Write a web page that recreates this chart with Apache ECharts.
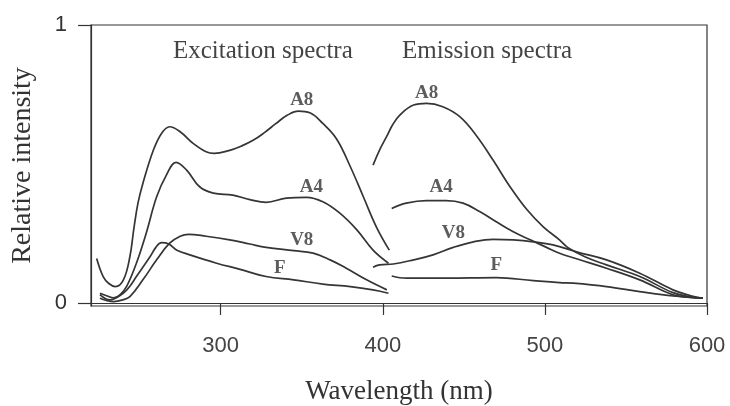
<!DOCTYPE html>
<html>
<head>
<meta charset="utf-8">
<script src="https://cdn.jsdelivr.net/npm/echarts@6/dist/echarts.min.js"></script>
<style>
  html, body { margin: 0; padding: 0; background: #fff; }
  #chart { width: 730px; height: 406px; }
</style>
</head>
<body>
<div id="chart"></div>
<script>
// wavelength (nm), relative intensity
const exA8 = [[223.5,0.16],[227.5,0.095],[231,0.07],[235,0.059],[240,0.083],[244,0.167],[246.5,0.27],[249,0.36],[252,0.43],[258.5,0.55],[263.5,0.61],[268.5,0.634],[275,0.616],[283,0.574],[291,0.544],[296,0.538],[305,0.548],[313,0.565],[320,0.585],[327,0.613],[334,0.645],[341,0.675],[348,0.69],[355,0.684],[363,0.646],[371.5,0.59],[380,0.49],[388,0.382],[396,0.274],[404,0.19]];
const exA4 = [[225.5,0.035],[230,0.025],[234,0.018],[238,0.03],[242,0.06],[248,0.143],[254,0.25],[260.5,0.382],[266.5,0.46],[272.5,0.506],[279,0.478],[287,0.418],[295.5,0.395],[307.5,0.388],[318,0.372],[328,0.362],[340.5,0.377],[353,0.38],[363,0.364],[373.5,0.323],[384,0.263],[394,0.19],[403.5,0.143]];
const exV8 = [[225.5,0.017],[230,0.008],[234,0.005],[239,0.01],[244,0.023],[252,0.083],[260.5,0.155],[268.5,0.215],[275,0.24],[280,0.247],[291,0.24],[305.5,0.227],[318,0.212],[328,0.2],[345,0.188],[357,0.179],[367.5,0.155],[377.5,0.125],[390,0.083],[402.5,0.047]];
const exF = [[225.5,0.03],[229,0.015],[232,0.011],[236,0.02],[240,0.035],[244,0.06],[248,0.095],[256.5,0.167],[260,0.2],[263.5,0.217],[268,0.212],[273,0.19],[281,0.173],[297.5,0.143],[312,0.121],[328,0.095],[345,0.083],[363,0.068],[380,0.059],[394,0.047],[403.5,0.035]];

const emA8 = [[394,0.496],[398,0.55],[402.5,0.6],[406,0.64],[410.5,0.676],[419,0.712],[427,0.718],[437,0.706],[447.5,0.67],[458,0.6],[468,0.514],[478.5,0.418],[489,0.335],[499,0.274],[509,0.227],[514,0.2],[525,0.165],[538,0.137],[558.5,0.095],[579,0.037],[590,0.022],[597.5,0.017]];
const emA4 = [[405.5,0.34],[414.5,0.359],[427,0.368],[439,0.368],[449.5,0.359],[460,0.328],[470,0.292],[480.5,0.256],[491,0.227],[501,0.2],[509,0.179],[520,0.158],[538,0.125],[558.5,0.083],[579,0.029],[590,0.02],[597.5,0.017]];
const emV8 = [[394,0.128],[398,0.137],[406.5,0.14],[419,0.155],[431,0.173],[443.5,0.2],[456,0.22],[468,0.229],[480.5,0.227],[493,0.22],[505,0.209],[520,0.183],[538,0.155],[558.5,0.107],[579,0.047],[590,0.026],[597.5,0.017]];
const emF = [[405.5,0.097],[414.5,0.089],[439,0.089],[470,0.091],[493,0.08],[509,0.073],[517.5,0.071],[538,0.059],[558.5,0.041],[579,0.025],[597.5,0.017]];

// curve labels placed in data space
const curveLabels = [
  { name: 'A8', value: [350, 0.73] },
  { name: 'A4', value: [356, 0.418] },
  { name: 'V8', value: [350, 0.226] },
  { name: 'F', value: [336.5, 0.125] },
  { name: 'A8', value: [427, 0.754] },
  { name: 'A4', value: [436, 0.418] },
  { name: 'V8', value: [443.5, 0.25] },
  { name: 'F', value: [470, 0.137] }
];

const xTicks = [300, 400, 500, 600];
const yTicks = [0, 1];

const chart = echarts.init(document.getElementById('chart'));

const lineColor = '#353535';
function curve(data) {
  return {
    type: 'line',
    data: data,
    smooth: 0.4,
    symbol: 'none',
    lineStyle: { color: lineColor, width: 1.7 },
    silent: true
  };
}

const titleFont = { fontFamily: 'Liberation Serif', fontSize: 25, fontWeight: 'normal', color: '#444' };

const option = {
  animation: false,
  title: [
    { text: 'Excitation spectra', left: 168, top: 34, textStyle: titleFont },
    { text: 'Emission spectra', left: 397, top: 34, textStyle: titleFont }
  ],
  grid: {
    left: 91, right: 23, top: 25, bottom: 100,
    outerBoundsMode: 'none',
    show: true, borderColor: '#333', borderWidth: 1.2
  },
  xAxis: {
    type: 'value',
    min: 220,
    max: 600,
    name: 'Wavelength (nm)',
    nameLocation: 'middle',
    nameGap: 72,
    nameTextStyle: { fontFamily: 'Liberation Serif', fontSize: 27, color: '#333' },
    axisLine: { lineStyle: { color: '#333', width: 1.2 } },
    axisTick: { show: true, length: 12, customValues: xTicks, lineStyle: { color: '#333', width: 1.2 } },
    axisLabel: { customValues: xTicks, margin: 29, fontFamily: 'Liberation Sans', fontSize: 22, color: '#444' },
    splitLine: { show: false }
  },
  yAxis: {
    type: 'value',
    min: -0.011,
    max: 1,
    name: 'Relative intensity',
    nameLocation: 'middle',
    nameGap: 54,
    nameTextStyle: { fontFamily: 'Liberation Serif', fontSize: 28, color: '#333' },
    axisLine: { show: true, lineStyle: { color: '#333', width: 1.2 } },
    axisTick: { show: true, length: 13, customValues: yTicks, lineStyle: { color: '#333', width: 1.2 } },
    axisLabel: { customValues: yTicks, margin: 24, fontFamily: 'Liberation Sans', fontSize: 22, color: '#333' },
    splitLine: { show: false }
  },
  series: [
    curve(exA8), curve(exA4), curve(exV8), curve(exF),
    curve(emA8), curve(emA4), curve(emV8), curve(emF),
    {
      type: 'scatter',
      data: curveLabels,
      symbolSize: 0,
      silent: true,
      label: {
        show: true,
        position: 'inside',
        formatter: '{b}',
        fontFamily: 'Liberation Serif',
        fontWeight: 'bold',
        fontSize: 19,
        color: '#333'
      }
    }
  ]
};

chart.setOption(option);
</script>
</body>
</html>
